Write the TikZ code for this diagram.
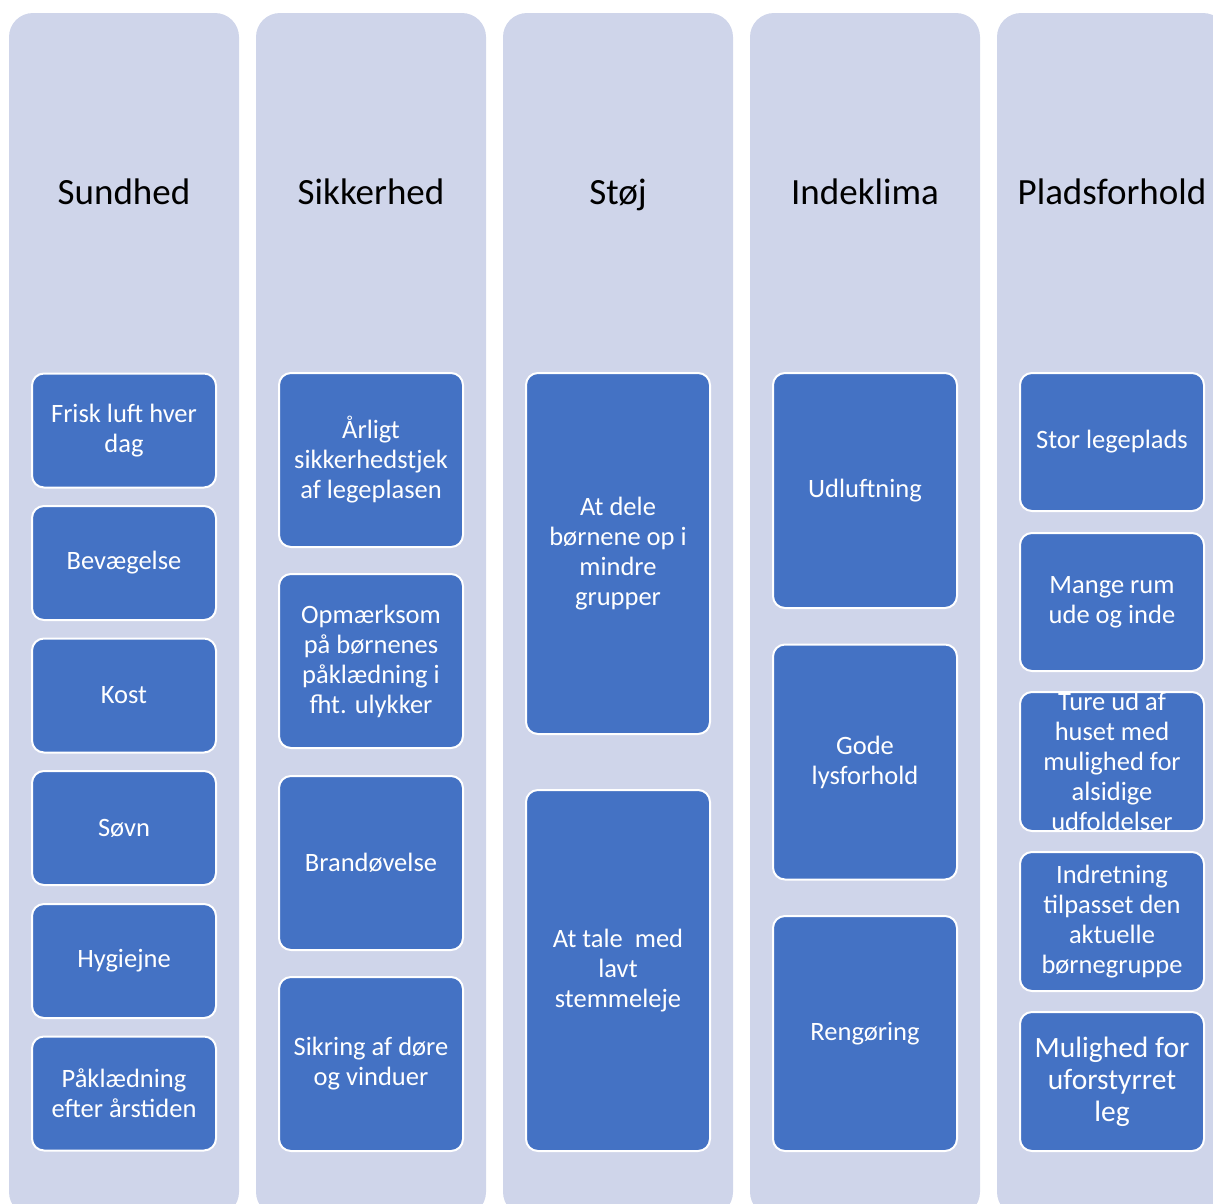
\documentclass[tikz,border=0pt]{standalone}
\usepackage{fontspec}
\setmainfont{Carlito}
\definecolor{colbg}{HTML}{CFD5EA}
\definecolor{tileblue}{HTML}{4472C4}
\begin{document}
\begin{tikzpicture}[x=1pt,y=-1pt,
  column/.style={fill=colbg, rounded corners=24pt},
  header/.style={font=\fontsize{37}{40}\selectfont, text=black, inner sep=0pt, anchor=base},
  tile/.style={draw=white, line width=2pt, fill=tileblue, rounded corners=12pt,
    minimum width=184pt, minimum height=#1, inner sep=0pt},
  tt/.style={text=white, align=center, inner sep=0pt, font=\fontsize{26.5}{30}\selectfont},
  ttbig/.style={text=white, align=center, inner sep=0pt, font=\fontsize{29.5}{32}\selectfont}]
\useasboundingbox (0,0) rectangle (1213,1203);
% columns
\fill[column] (9,13) rectangle (239,1216);
\fill[column] (256,13) rectangle (486,1216);
\fill[column] (503,13) rectangle (733,1216);
\fill[column] (750,13) rectangle (980,1216);
\fill[column] (997,13) rectangle (1227,1216);
% headers
\node[header] (h1) at (124,204) {Sundhed};
\node[header] (h2) at (371,204) {Sikkerhed};
\node[header] (h3) at (618,204) {Støj};
\node[header] (h4) at (865,204) {Indeklima};
\node[header] (h5) at (1112,204) {Pladsforhold};
% Sundhed
\node[tile=114pt] (a1) at (124,430.5) {};
\node[tt] (a1t) at (a1) {Frisk luft hver\\dag};
\node[tile=114pt] (a2) at (124,563) {};
\node[tt] (a2t) at (a2) {Bevægelse};
\node[tile=114pt] (a3) at (124,695.5) {};
\node[tt] (a3t) at (a3) {Kost};
\node[tile=114pt] (a4) at (124,828) {};
\node[tt] (a4t) at (a4) {Søvn};
\node[tile=114pt] (a5) at (124,961) {};
\node[tt] (a5t) at (a5) {Hygiejne};
\node[tile=114pt] (a6) at (124,1093.5) {};
\node[tt] (a6t) at (a6) {Påklædning\\efter årstiden};
% Sikkerhed
\node[tile=174pt] (b1) at (371,460) {};
\node[tt] (b1t) at (b1) {Årligt\\sikkerhedstjek\\af legeplasen};
\node[tile=174pt] (b2) at (371,661) {};
\node[tt] (b2t) at (b2) {Opmærksom\\på børnenes\\påklædning i\\fht. ulykker};
\node[tile=174pt] (b3) at (371,863) {};
\node[tt] (b3t) at (b3) {Brandøvelse};
\node[tile=174pt] (b4) at (371,1064) {};
\node[tt] (b4t) at (b4) {Sikring af døre\\og vinduer};
% Stoj
\node[tile=361pt] (c1) at (618,553.5) {};
\node[tt] (c1t) at (c1) {At dele\\børnene op i\\mindre\\grupper};
\node[tile=361pt] (c2) at (618,970.5) {};
\node[tt] (c2t) at (c2) {At tale\ \ med\\lavt\\stemmeleje};
% Indeklima
\node[tile=235pt] (d1) at (865,490.5) {};
\node[tt] (d1t) at (d1) {Udluftning};
\node[tile=235pt] (d2) at (865,762) {};
\node[tt] (d2t) at (d2) {Gode\\lysforhold};
\node[tile=235pt] (d3) at (865,1033.5) {};
\node[tt] (d3t) at (d3) {Rengøring};
% Pladsforhold
\node[tile=138pt] (e1) at (1112,442) {};
\node[tt] (e1t) at (e1) {Stor legeplads};
\node[tile=138pt] (e2) at (1112,602) {};
\node[tt] (e2t) at (e2) {Mange rum\\ude og inde};
\node[tile=139pt] (e3) at (1112,761.5) {};
\node[tt] (e3t) at (e3) {Ture ud af\\huset med\\mulighed for\\alsidige\\udfoldelser};
\node[tile=139pt] (e4) at (1112,921.5) {};
\node[tt] (e4t) at (e4) {Indretning\\tilpasset den\\aktuelle\\børnegruppe};
\node[tile=139pt] (e5) at (1112,1081.5) {};
\node[ttbig] (e5t) at (e5) {Mulighed for\\uforstyrret\\leg};
\end{tikzpicture}
\end{document}
